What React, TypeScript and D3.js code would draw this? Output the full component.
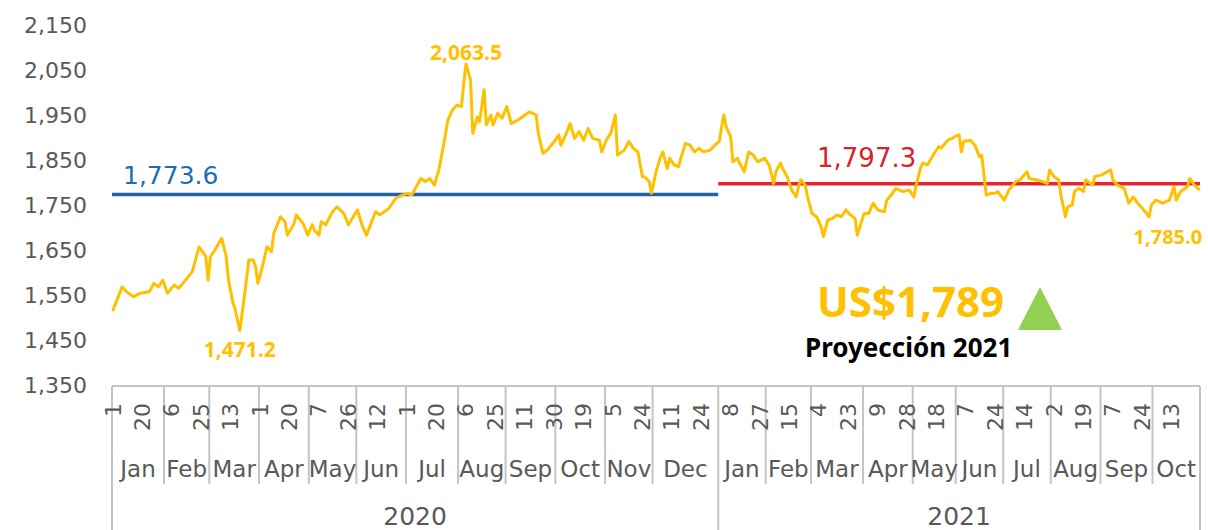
import React from "react";
import * as d3 from "d3";

// ---------- DATA ----------
const yTicks = [1350, 1450, 1550, 1650, 1750, 1850, 1950, 2050, 2150];

const years = ["2020", "2021"];
const monthNames2020 = ["Jan", "Feb", "Mar", "Apr", "May", "Jun", "Jul", "Aug", "Sep", "Oct", "Nov", "Dec"];
const monthSlots2020 = [23, 20, 22, 22, 21, 22, 23, 21, 22, 22, 21, 29];
const monthNames2021 = ["Jan", "Feb", "Mar", "Apr", "May", "Jun", "Jul", "Aug", "Sep", "Oct"];
const monthSlots2021 = [21, 20, 23, 22, 19, 21, 21, 22, 23, 21];

// one day label every 13 trading days
const dayTickStep = 13;
const dayTickLabels = [
  "1", "20", "6", "25", "13", "1", "20", "7", "26", "12", "1", "20", "6", "25", "11", "30", "19", "5", "24", "11", "24",
  "8", "27", "15", "4", "23", "9", "28", "18", "7", "24", "14", "2", "19", "7", "24", "13",
];

// trading-day index and gold price (US$/oz)
const priceDay = [
  0, 4, 6, 9, 12, 16, 18, 20, 22, 24, 27, 29, 32, 35, 38, 40, 41, 42, 43, 45, 48, 50, 51, 53, 54, 56, 58, 60, 62, 63,
  64, 66, 68, 70, 71, 74, 76, 77, 80, 81, 84, 86, 88, 89, 91, 92, 94, 97, 99, 102, 104, 108, 110, 112, 116, 118, 122,
  125, 128, 130, 132, 136, 138, 140, 142, 144, 146, 148, 150, 152, 154, 155, 156, 158, 159, 161, 162, 164, 165, 167,
  168, 170, 172, 174, 176, 179, 181, 184, 187, 188, 190, 192, 195, 197, 198, 201, 202, 204, 206, 208, 210, 212, 215,
  216, 218, 220, 222, 223, 226, 228, 230, 232, 234, 235, 237, 238, 240, 242, 243, 245, 246, 248, 250, 251, 253, 255,
  257, 259, 261, 264, 266, 268, 269, 270, 271, 273, 274, 276, 277, 279, 281, 283, 285, 288, 290, 292, 293, 295, 296,
  298, 300, 302, 303, 304, 306, 307, 309, 311, 313, 314, 316, 318, 320, 322, 324, 326, 328, 329, 332, 334, 336, 338,
  341, 342, 344, 346, 349, 352, 354, 355, 357, 358, 360, 363, 365, 366, 369, 371, 372, 374, 375, 376, 379, 381, 383,
  384, 386, 388, 390, 391, 394, 396, 399, 401, 404, 405, 408, 411, 413, 414, 416, 418, 419, 421, 422, 424, 425, 427,
  429, 430, 433, 434, 437, 441, 442, 444, 447, 449, 451, 453, 455, 458, 459, 461, 464, 467, 469, 470, 472, 475, 476,
  478, 480,
];
const priceValue = [
  1517, 1568, 1557, 1546, 1554, 1557, 1576, 1568, 1583, 1554, 1572, 1565, 1583, 1602, 1657, 1643, 1635, 1583, 1635,
  1650, 1676, 1635, 1583, 1532, 1517, 1471.2, 1546, 1628, 1628, 1613, 1576, 1613, 1657, 1646, 1687, 1724, 1713, 1683,
  1709, 1728, 1709, 1683, 1706, 1694, 1683, 1713, 1706, 1735, 1746, 1731, 1706, 1739, 1706, 1683, 1735, 1728, 1743,
  1765, 1772, 1776, 1772, 1809, 1802, 1809, 1794, 1828, 1880, 1939, 1961, 1972, 1969, 2020, 2063.5, 2028, 1909, 1946,
  1935, 2006, 1928, 1950, 1928, 1954, 1943, 1969, 1931, 1939, 1946, 1957, 1950, 1909, 1865, 1872, 1891, 1906, 1883,
  1917, 1931, 1898, 1913, 1894, 1920, 1898, 1894, 1868, 1894, 1909, 1950, 1861, 1872, 1891, 1876, 1868, 1813, 1813,
  1802, 1776, 1824, 1857, 1868, 1831, 1854, 1839, 1835, 1854, 1887, 1883, 1868, 1876, 1868, 1872, 1883, 1891, 1924,
  1950, 1924, 1902, 1846, 1854, 1843, 1824, 1868, 1861, 1846, 1854, 1839, 1798, 1824, 1843, 1831, 1813, 1783, 1768,
  1791, 1806, 1794, 1768, 1731, 1724, 1702, 1680, 1717, 1720, 1728, 1724, 1739, 1728, 1720, 1683, 1731, 1731, 1754,
  1739, 1735, 1761, 1772, 1787, 1780, 1783, 1768, 1794, 1833, 1843, 1839, 1865, 1880, 1876, 1894, 1898, 1902, 1906,
  1868, 1891, 1894, 1883, 1857, 1861, 1772, 1776, 1776, 1780, 1761, 1783, 1802, 1806, 1824, 1809, 1806, 1802, 1798,
  1828, 1813, 1806, 1772, 1724, 1746, 1750, 1780, 1787, 1780, 1806, 1794, 1813, 1817, 1828, 1806, 1794, 1787, 1754,
  1768, 1754, 1743, 1724, 1750, 1761, 1754, 1761, 1791, 1761, 1780, 1791, 1809, 1794, 1785.0,
];

const yearAverages = [1773.6, 1797.3];
const projectionValue = "US$1,789";
const projectionLabel = "Proyección 2021";

// ---------- HELPERS ----------
const fmt1 = d3.format(",.1f");
const fmt0 = d3.format(",");

export default function App() {
  const W = 1208;
  const H = 530;
  const left = 112;
  const right = 1200;
  const axisTop = 386;

  const allSlots = [...monthSlots2020, ...monthSlots2021];
  const total = d3.sum(allSlots);
  const year1Slots = d3.sum(monthSlots2020);

  const x = d3.scaleLinear().domain([0, total]).range([left, right]);
  const y = d3.scaleLinear().domain([1350, 2150]).range([385, 25]);

  const data = priceDay.map((d, i) => ({ d, v: priceValue[i] }));
  const line = d3
    .line<{ d: number; v: number }>()
    .x((p) => x(p.d + 0.5))
    .y((p) => y(p.v));

  // months
  const months: { name: string; start: number; end: number }[] = [];
  let acc = 0;
  monthNames2020.forEach((n, i) => {
    months.push({ name: n, start: acc, end: acc + monthSlots2020[i] });
    acc += monthSlots2020[i];
  });
  monthNames2021.forEach((n, i) => {
    months.push({ name: n, start: acc, end: acc + monthSlots2021[i] });
    acc += monthSlots2021[i];
  });
  const yearSpans = [
    { name: years[0], start: 0, end: year1Slots },
    { name: years[1], start: year1Slots, end: total },
  ];

  const maxIdx = d3.maxIndex(priceValue);
  const minIdx = d3.minIndex(priceValue);
  const lastIdx = priceValue.length - 1;

  const gold = "#FFC000";
  const axisColor = "#C4C4C4";
  const textGray = "#595959";
  const font = "'DejaVu Sans', sans-serif";
  const boldFont = "'Open Sans', sans-serif";

  const triX = 1040;
  const triTop = 287;
  const triBottom = 330;
  const triHalf = 22;

  return (
    <svg
      width={W}
      height={H}
      style={{ position: "absolute", left: 0, top: 0, background: "#fff" }}
      fontFamily={font}
    >
      {/* y tick labels */}
      {yTicks.map((t) => (
        <text key={t} x={87} y={y(t)} textAnchor="end" dominantBaseline="central" fontSize={22} fill={textGray}>
          {fmt0(t)}
        </text>
      ))}

      {/* average lines */}
      <line x1={x(0)} x2={x(year1Slots)} y1={y(yearAverages[0])} y2={y(yearAverages[0])} stroke="#1F64A6" strokeWidth={3.5} />
      <line x1={x(year1Slots)} x2={x(total)} y1={y(yearAverages[1])} y2={y(yearAverages[1])} stroke="#E5262F" strokeWidth={3.5} />
      <text x={123} y={y(yearAverages[0]) - 10} fontSize={25} fill="#1F6BB5">
        {fmt1(yearAverages[0])}
      </text>
      <text x={817} y={y(yearAverages[1]) - 17} fontSize={26} fill="#D9222C">
        {fmt1(yearAverages[1])}
      </text>

      {/* price line */}
      <path d={line(data) || ""} fill="none" stroke={gold} strokeWidth={3} strokeLinejoin="round" strokeLinecap="round" />

      {/* value labels */}
      <text x={x(priceDay[maxIdx] + 0.5)} y={y(priceValue[maxIdx]) - 4} textAnchor="middle" fontFamily={boldFont} fontWeight={700} fontSize={21} fill={gold}>
        {fmt1(priceValue[maxIdx])}
      </text>
      <text x={x(priceDay[minIdx] + 0.5)} y={y(priceValue[minIdx]) + 27} textAnchor="middle" fontFamily={boldFont} fontWeight={700} fontSize={21} fill={gold}>
        {fmt1(priceValue[minIdx])}
      </text>
      <text x={x(priceDay[lastIdx] + 0.5) - 31} y={y(priceValue[lastIdx]) + 55} textAnchor="middle" fontFamily={boldFont} fontWeight={700} fontSize={20} fill={gold}>
        {fmt1(priceValue[lastIdx])}
      </text>

      {/* projection */}
      <text x={817} y={317} fontFamily="'Noto Sans', sans-serif" fontWeight={700} fontSize={42} fill={gold}>
        {projectionValue}
      </text>
      <path d={`M${triX},${triTop}L${triX + triHalf},${triBottom}L${triX - triHalf},${triBottom}Z`} fill="#92D050" />
      <text x={805} y={357} fontFamily="'Noto Sans', sans-serif" fontWeight={700} fontSize={26} fill="#000">
        {projectionLabel}
      </text>

      {/* category axis */}
      <g stroke={axisColor} strokeWidth={2} fill="none">
        <line x1={left} x2={right} y1={axisTop} y2={axisTop} />
        <line x1={left} x2={left} y1={axisTop} y2={H} />
        <line x1={right} x2={right} y1={axisTop} y2={H} />
        <line x1={x(year1Slots)} x2={x(year1Slots)} y1={axisTop} y2={H} />
        {months.slice(1).map((m, i) =>
          m.start === year1Slots ? null : (
            <line key={i} x1={x(m.start)} x2={x(m.start)} y1={axisTop} y2={484} />
          )
        )}
      </g>

      {/* day labels */}
      {dayTickLabels.map((lab, k) => {
        const px = x(k * dayTickStep + 0.5);
        return (
          <text
            key={k}
            transform={`translate(${px},${403}) rotate(-90)`}
            textAnchor="end"
            dominantBaseline="central"
            fontSize={22}
            fill={textGray}
          >
            {lab}
          </text>
        );
      })}

      {/* month labels */}
      {months.map((m, i) => (
        <text key={i} x={(x(m.start) + x(m.end)) / 2} y={477} textAnchor="middle" fontSize={23} fill={textGray}>
          {m.name}
        </text>
      ))}

      {/* year labels */}
      {yearSpans.map((s) => (
        <text key={s.name} x={(x(s.start) + x(s.end)) / 2} y={525} textAnchor="middle" fontSize={25} fill={textGray}>
          {s.name}
        </text>
      ))}
    </svg>
  );
}
